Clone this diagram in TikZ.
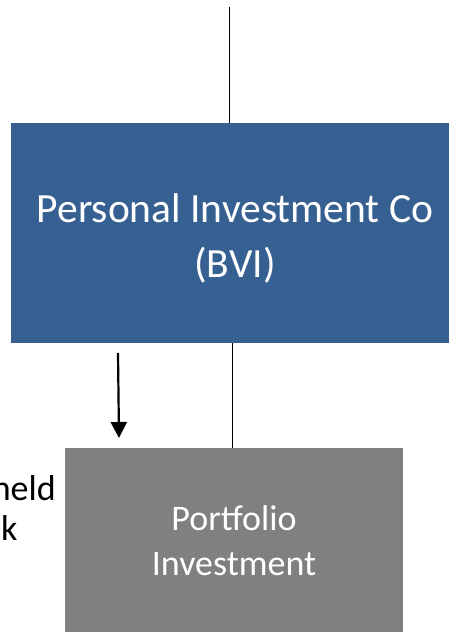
\documentclass[tikz,border=0pt]{standalone}
\usepackage{fontspec}
\setmainfont{Carlito}
\usetikzlibrary{positioning,arrows.meta}

\definecolor{coblue}{RGB}{55,96,146}
\definecolor{pfgrey}{RGB}{128,128,128}

\begin{document}
\begin{tikzpicture}[x=1pt,y=-1pt]
\tikzstyle{company}=[rectangle, fill=coblue, text=white, align=center, inner sep=0pt, font=\fontsize{41.5}{55}\selectfont]
\tikzstyle{holding}=[rectangle, fill=pfgrey, text=white, align=center, inner sep=0pt, font=\fontsize{36}{45}\selectfont]
\tikzstyle{sidetext}=[inner sep=0pt, font=\fontsize{36}{40}\selectfont]
\tikzstyle{link}=[line width=1.9pt]
\tikzstyle{connect}=[-{Triangle[width=16pt,length=16pt]}, line width=2.2pt]
\useasboundingbox (0,0) rectangle (449,632);
\clip (0,0) rectangle (449,632);
\node[company, minimum width=448pt, minimum height=220pt] (invco) at (235,233) {\rule{0pt}{40pt}Personal Investment Co\\(BVI)};
\node[holding, minimum width=338pt, minimum height=184pt] (port) [below=105pt of invco, xshift=-1pt] {Portfolio\\Investment};
\node[sidetext, anchor=base east] (held) at (56,500) {held};
\node[sidetext, anchor=base west] (kline) at (1,540) {k};
% lines into and out of the company
\coordinate (topend) at (229.5,7);
\coordinate (midlink) at (232.5,343);
\draw[link] (topend) -- (topend |- invco.north);
\draw[link] (midlink) -- (midlink |- port.north);
% free arrow between the two boxes
\coordinate (arrfrom) at (118,353);
\coordinate (arrto) at (119,438);
\draw[connect] (arrfrom) -- (arrto);
\end{tikzpicture}
\end{document}
